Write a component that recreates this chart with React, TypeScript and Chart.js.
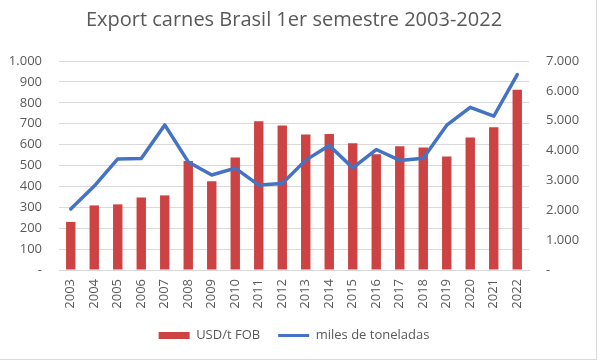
import React, { useEffect, useRef } from "react";
import { Chart, registerables } from "chart.js";

Chart.register(...registerables);

const years = ["2003","2004","2005","2006","2007","2008","2009","2010","2011","2012","2013","2014","2015","2016","2017","2018","2019","2020","2021","2022"];
const usdPerTon = [230, 309, 314, 347, 357, 521, 425, 538, 712, 691, 648, 651, 607, 554, 592, 586, 543, 634, 683, 863];
const milesToneladas = [2040, 2810, 3720, 3735, 4860, 3620, 3180, 3410, 2845, 2900, 3680, 4170, 3420, 4035, 3670, 3745, 4850, 5450, 5150, 6545];
const titleText = "Export carnes Brasil 1er semestre 2003-2022";
const barLabel = "USD/t FOB";
const lineLabel = "miles de toneladas";

const RED = "#CD4343";
const BLUE = "#4472C4";
const TEXT = "#595959";
const GRID = "#D9D9D9";
const FONT = "'Open Sans', 'Noto Sans', sans-serif";

const fmt = (v: number) => (v === 0 ? "-" : v.toLocaleString("de-DE"));

export default function App() {
  const ref = useRef<HTMLCanvasElement | null>(null);
  useEffect(() => {
    if (!ref.current) return;
    const chart = new Chart(ref.current, {
      type: "bar",
      data: {
        labels: years,
        datasets: [
          {
            type: "bar",
            label: barLabel,
            data: usdPerTon,
            backgroundColor: RED,
            borderWidth: 0,
            barPercentage: 0.4,
            categoryPercentage: 1,
            yAxisID: "y",
            order: 1,
          },
          {
            type: "line",
            label: lineLabel,
            data: milesToneladas,
            borderColor: BLUE,
            backgroundColor: BLUE,
            borderWidth: 3.5,
            pointRadius: 0,
            borderJoinStyle: "round",
            borderCapStyle: "round",
            tension: 0,
            yAxisID: "y1",
            order: 0,
          },
        ],
      },
      options: {
        responsive: false,
        animation: false,
        maintainAspectRatio: false,
        layout: { padding: { left: 0, right: 12, top: 0, bottom: 12 } },
        plugins: {
          title: {
            display: true,
            text: titleText,
            color: TEXT,
            font: { family: FONT, size: 20, weight: "normal" },
            padding: { top: 8, bottom: 29 },
          },
          legend: {
            display: true,
            position: "bottom",
            labels: {
              color: TEXT,
              font: { family: FONT, size: 13 },
              usePointStyle: true,
              pointStyleWidth: 31,
              boxHeight: 7,
              padding: 18,
              sort: (a: any, b: any) => a.datasetIndex - b.datasetIndex,
              generateLabels: (c: any) => {
                const items = (Chart.defaults.plugins.legend.labels as any).generateLabels(c);
                return items.map((it: any) =>
                  it.datasetIndex === 0
                    ? { ...it, pointStyle: "rect", lineWidth: 0, fillStyle: RED, strokeStyle: RED }
                    : { ...it, pointStyle: "line", lineWidth: 3, fillStyle: BLUE, strokeStyle: BLUE }
                );
              },
            },
          },
          tooltip: { enabled: false },
        },
        scales: {
          x: {
            grid: { display: false },
            border: { display: true, color: GRID },
            ticks: {
              color: TEXT,
              font: { family: FONT, size: 13 },
              minRotation: 90,
              maxRotation: 90,
              padding: 1,
              autoSkip: false,
            },
            afterFit: (s: any) => {
              s.height = 41;
              s.paddingLeft = 0;
              s.paddingRight = 0;
            },
          },
          y: {
            position: "left",
            min: 0,
            max: 1000,
            grid: { color: GRID, drawTicks: false },
            border: { display: false },
            ticks: {
              stepSize: 100,
              color: TEXT,
              font: { family: FONT, size: 13 },
              padding: 17,
              callback: (v: any) => fmt(Number(v)),
            },
            afterFit: (s: any) => {
              s.width = 59;
            },
          },
          y1: {
            position: "right",
            min: 0,
            max: 7000,
            grid: { display: false, drawTicks: false },
            border: { display: false },
            ticks: {
              stepSize: 1000,
              color: TEXT,
              font: { family: FONT, size: 13 },
              padding: 17,
              callback: (v: any) => fmt(Number(v)),
            },
            afterFit: (s: any) => {
              s.width = 59;
            },
          },
        },
      },
    });
    return () => chart.destroy();
  }, []);
  return (
    <div style={{ position: "fixed", left: 0, top: 0, width: 600, height: 364, background: "#fff" }}>
      <canvas ref={ref} width={600} height={364} style={{ display: "block" }} />
      <div style={{ position: "absolute", left: 596, top: 0, width: 1, height: 360, background: GRID }} />
      <div style={{ position: "absolute", left: 0, top: 359, width: 597, height: 1, background: GRID }} />
    </div>
  );
}
